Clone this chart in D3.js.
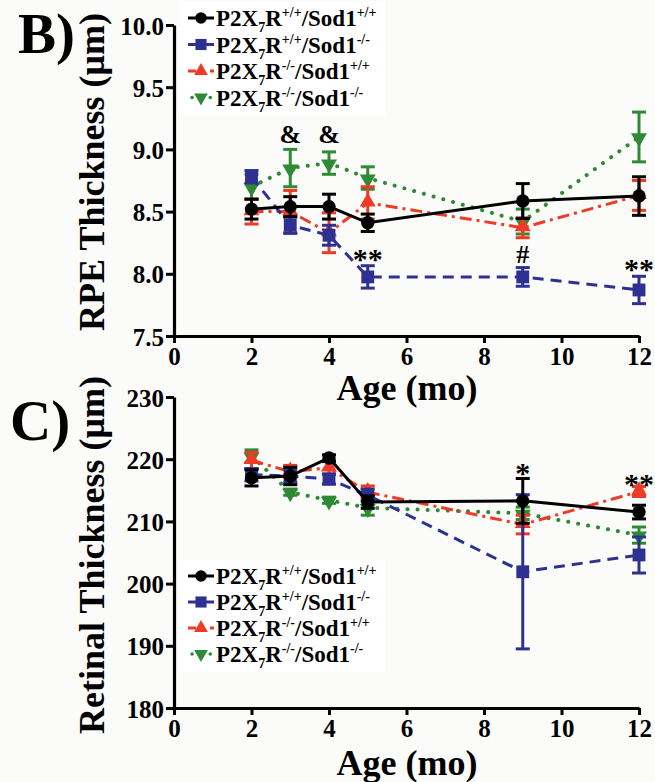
<!DOCTYPE html>
<html>
<head>
<meta charset="utf-8">
<script src="https://cdn.jsdelivr.net/npm/d3@7"></script>
<style>
  html, body { margin: 0; padding: 0; background: #fbfbf9; }
  svg { display: block; }
</style>
</head>
<body>
<svg id="chart" width="655" height="782"></svg>
<script>
// ---------------- DATA ----------------
const months = [2, 3, 4, 5, 9, 12];
const groupKeys = ["wtwt", "wtko", "kowt", "koko"];
const groupSup1 = ["+/+", "+/+", "-/-", "-/-"];
const groupSup2 = ["+/+", "-/-", "+/+", "-/-"];

// Panel B: RPE thickness (µm), mean and SEM
const rpeWtWt = [8.52, 8.54, 8.54, 8.41, 8.585, 8.625];
const rpeWtWtErr = [0.08, 0.08, 0.10, 0.07, 0.14, 0.155];
const rpeWtKo = [8.78, 8.39, 8.31, 7.975, 7.975, 7.87];
const rpeWtKoErr = [0.05, 0.065, 0.08, 0.09, 0.075, 0.11];
const rpeKoWt = [8.50, 8.50, 8.33, 8.57, 8.37, 8.63];
const rpeKoWtErr = [0.10, 0.17, 0.16, 0.13, 0.08, 0.12];
const rpeKoKo = [8.70, 8.85, 8.89, 8.77, 8.42, 9.10];
const rpeKoKoErr = [0.10, 0.15, 0.09, 0.09, 0.10, 0.20];

// Panel C: retinal thickness (µm), mean and SEM
const retWtWt = [217.0, 217.3, 220.2, 213.1, 213.3, 211.5];
const retWtWtErr = [1.3, 1.4, 0.5, 1.0, 3.6, 1.1];
const retWtKo = [217.5, 217.3, 216.8, 214.2, 201.9, 204.6];
const retWtKoErr = [1.0, 1.0, 0.8, 1.0, 12.4, 2.9];
const retKoWt = [219.8, 218.0, 218.6, 214.7, 209.5, 214.8];
const retKoWtErr = [1.3, 1.0, 1.0, 1.0, 1.5, 0.8];
const retKoKo = [220.5, 214.7, 213.4, 212.2, 211.3, 207.8];
const retKoKoErr = [1.0, 0.5, 0.5, 1.2, 1.0, 1.3];

// significance marks (month, value at mark centre, symbol)
const rpeMarkMonths = [3, 4, 5, 9, 12];
const rpeMarkValues = [9.11, 9.11, 8.15, 8.15, 8.07];
const rpeMarkText = ["&", "&", "**", "#", "**"];
const retMarkMonths = [9, 12];
const retMarkValues = [218.5, 216.6];
const retMarkText = ["*", "**"];

// axis ticks
const xTicks = [0, 2, 4, 6, 8, 10, 12];
const rpeTicks = [7.5, 8.0, 8.5, 9.0, 9.5, 10.0];
const retTicks = [180, 190, 200, 210, 220, 230];

// ---------------- STYLE ----------------
const FONT = "'Liberation Serif', 'Times New Roman', Times, serif";
const styles = {
  wtwt: { color: "#000000", dash: null, symbol: d3.symbolCircle, size: 140, rot: 0, cap: "butt" },
  wtko: { color: "#2f3192", dash: "11,7", symbol: d3.symbolSquare, size: 165, rot: 0, cap: "butt" },
  kowt: { color: "#ee3b25", dash: "12,5,3,5", symbol: d3.symbolTriangle, size: 110, rot: 0, cap: "butt" },
  koko: { color: "#2f8a36", dash: "0.1,10", symbol: d3.symbolTriangle, size: 110, rot: 180, cap: "round" }
};
const drawOrder = ["koko", "kowt", "wtko", "wtwt"];

const svg = d3.select("#chart");
svg.append("rect").attr("width", 655).attr("height", 782).attr("fill", "#fbfbf9");

function buildSeries(vals) {
  return groupKeys.map((k, gi) => ({
    key: k,
    pts: months.map((m, i) => ({ m: m, v: vals[gi][0][i], e: vals[gi][1][i] }))
  }));
}

function drawPanel(cfg) {
  const x = d3.scaleLinear().domain([0, 12]).range([174, 639]);
  const y = d3.scaleLinear().domain(cfg.domain).range(cfg.yRange);
  const g = svg.append("g");

  // panel letter
  g.append("text").attr("x", cfg.letterX).attr("y", cfg.letterY)
    .style("font-size", "57px").text(cfg.letter);

  // legend background
  const lg = g.append("g");
  lg.append("rect").attr("x", 179).attr("y", cfg.legendTop - 16)
    .attr("width", 206).attr("height", cfg.legendStep * 4 + 8).attr("fill", "#ffffff");

  // axes
  const yAxis = d3.axisLeft(y).tickValues(cfg.ticks).tickFormat(cfg.fmt)
    .tickSize(8).tickSizeOuter(0).tickPadding(2);
  const xAxis = d3.axisBottom(x).tickValues(xTicks).tickFormat(d3.format("d"))
    .tickSize(7).tickSizeOuter(0).tickPadding(4);

  const ya = g.append("g").attr("transform", `translate(174,0)`).call(yAxis);
  const xa = g.append("g").attr("transform", `translate(0,${cfg.yRange[0]})`).call(xAxis);
  [ya, xa].forEach(a => {
    a.select(".domain").attr("stroke", "#000").attr("stroke-width", 3.2);
    a.selectAll(".tick line").attr("stroke", "#000").attr("stroke-width", 3);
    a.selectAll(".tick text").style("font-size", "25px").attr("fill", "#000");
  });
  ya.selectAll(".tick text").attr("dy", "0.36em");

  // axis titles
  g.append("text").attr("x", 407).attr("y", cfg.xTitleY).attr("text-anchor", "middle")
    .style("font-size", "36px").text("Age (mo)");
  g.append("text").attr("transform", `translate(104,${cfg.yTitleY}) rotate(-90)`)
    .attr("text-anchor", "middle").style("font-size", "36px").text(cfg.yTitle);

  const series = buildSeries(cfg.values);
  const byKey = {};
  series.forEach(s => byKey[s.key] = s);

  const line = d3.line().x(d => x(d.m)).y(d => y(d.v));

  drawOrder.forEach(k => {
    const s = byKey[k], st = styles[k];
    const sg = g.append("g");
    // error bars
    s.pts.forEach(p => {
      sg.append("line").attr("x1", x(p.m)).attr("x2", x(p.m))
        .attr("y1", y(p.v - p.e)).attr("y2", y(p.v + p.e))
        .attr("stroke", st.color).attr("stroke-width", 3);
      [p.v - p.e, p.v + p.e].forEach(ev => {
        sg.append("line").attr("x1", x(p.m) - 7).attr("x2", x(p.m) + 7)
          .attr("y1", y(ev)).attr("y2", y(ev))
          .attr("stroke", st.color).attr("stroke-width", 3);
      });
    });
    // connecting line
    sg.append("path").datum(s.pts).attr("d", line).attr("fill", "none")
      .attr("stroke", st.color).attr("stroke-width", k === "koko" ? 4 : 3)
      .attr("stroke-dasharray", st.dash).attr("stroke-linecap", st.cap);
    // markers
    s.pts.forEach(p => {
      sg.append("path").attr("d", d3.symbol().type(st.symbol).size(st.size)())
        .attr("transform", `translate(${x(p.m)},${y(p.v) + (k === "koko" ? 1 : (k === "kowt" ? -1 : 0))}) rotate(${st.rot})`)
        .attr("fill", st.color);
    });
  });

  // significance marks
  cfg.markMonths.forEach((m, i) => {
    const t = cfg.markText[i];
    let size = 30, off = 14;
    if (t === "&") { size = 26; off = 7; }
    if (t === "#") { size = 26; off = 8; }
    g.append("text").attr("x", x(m)).attr("y", y(cfg.markValues[i]) + off)
      .attr("text-anchor", "middle").style("font-size", size + "px")
      .text(t);
  });

  // legend entries
  groupKeys.forEach((k, i) => {
    const st = styles[k];
    const cy = cfg.legendTop + i * cfg.legendStep;
    lg.append("line").attr("x1", 188).attr("x2", 214).attr("y1", cy).attr("y2", cy)
      .attr("stroke", st.color).attr("stroke-width", k === "koko" ? 3.5 : 3)
      .attr("stroke-dasharray", k === "koko" ? "0.1,9" : (k === "kowt" ? "8,14" : null))
      .attr("stroke-linecap", st.cap)
      .attr("stroke-dashoffset", k === "koko" ? -4 : 0);
    lg.append("path").attr("d", d3.symbol().type(st.symbol).size(st.size * 0.75)())
      .attr("transform", `translate(201,${cy}) rotate(${st.rot})`).attr("fill", st.color);
    const t = lg.append("text").attr("x", 216).attr("y", cy + 8).style("font-size", "23px");
    t.append("tspan").text("P2X");
    t.append("tspan").attr("dy", 6).style("font-size", "14px").text("7");
    t.append("tspan").attr("dy", -6).text("R");
    t.append("tspan").attr("dy", -9).style("font-size", "14px").text(groupSup1[i]);
    t.append("tspan").attr("dy", 9).text("/Sod1");
    t.append("tspan").attr("dy", -9).style("font-size", "14px").text(groupSup2[i]);
  });
}

drawPanel({
  letter: "B)", letterX: 18, letterY: 53,
  domain: [7.5, 10], yRange: [336, 25], ticks: rpeTicks, fmt: d3.format(".1f"),
  xTitleY: 400, yTitleY: 172, yTitle: "RPE Thickness (\u03bcm)",
  values: [[rpeWtWt, rpeWtWtErr], [rpeWtKo, rpeWtKoErr], [rpeKoWt, rpeKoWtErr], [rpeKoKo, rpeKoKoErr]],
  markMonths: rpeMarkMonths, markValues: rpeMarkValues, markText: rpeMarkText,
  legendTop: 18, legendStep: 26.5
});

drawPanel({
  letter: "C)", letterX: 10, letterY: 440,
  domain: [180, 230], yRange: [708, 397], ticks: retTicks, fmt: d3.format("d"),
  xTitleY: 775, yTitleY: 555, yTitle: "Retinal Thickness (\u03bcm)",
  values: [[retWtWt, retWtWtErr], [retWtKo, retWtKoErr], [retKoWt, retKoWtErr], [retKoKo, retKoKoErr]],
  markMonths: retMarkMonths, markValues: retMarkValues, markText: retMarkText,
  legendTop: 576, legendStep: 26
});

// apply the serif bold face to every text (axis groups set their own family attribute)
svg.selectAll("g").attr("font-family", null);
svg.selectAll("text")
  .style("font-family", FONT)
  .style("font-weight", "bold")
  .attr("fill", "#000");
</script>
</body>
</html>
